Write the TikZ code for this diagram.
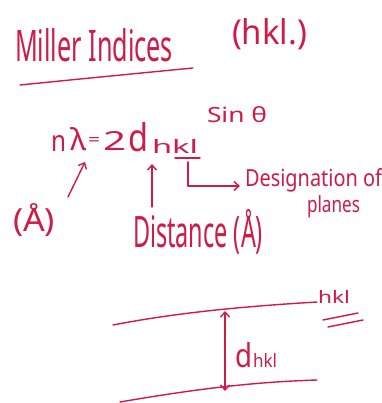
\documentclass[tikz,border=0pt]{standalone}
\usepackage{fontspec}
\setmainfont{Noto Sans}
\usetikzlibrary{arrows.meta}
\definecolor{ink}{RGB}{206,28,72}
\newcommand\fitbox[3]{\resizebox{#1}{#2}{#3}}
\begin{document}
\begin{tikzpicture}[x=1pt,y=-1pt,line width=1.4pt,line cap=round,line join=round,draw=ink,
  txt/.style={inner sep=0pt,outer sep=0pt,text=ink,anchor=base west},
  arr/.style={-{Straight Barb[length=5pt,width=9pt,line width=1.4pt]}},
  darr/.style={{Straight Barb[length=5pt,width=9pt,line width=1.4pt]}-{Straight Barb[length=5pt,width=9pt,line width=1.4pt]}}]
\useasboundingbox (0,0) rectangle (381,403);
\fill[white] (0,0) rectangle (381,403);
% title
\node[txt] (title) at (15,62) {\fitbox{158pt}{33pt}{Miller Indices}};
\coordinate (ul1) at (20,85);
\coordinate (ul2) at (193,68);
\draw (ul1) .. controls (90,78) .. (ul2);
\node[txt] (hklp) at (232,45) {\fitbox{75pt}{26pt}{(hkl.)}};
% equation
\node[txt] (n) at (51,151) {\fitbox{15pt}{16pt}{n}};
\node[txt] (lam) at (70,151) {\fitbox{16pt}{23pt}{λ}};
\node[txt] (eq) at (88,146) {\fitbox{12pt}{8pt}{=}};
\node[txt] (two) at (103,151) {\fitbox{23pt}{19pt}{2}};
\node[txt] (d) at (128,151) {\fitbox{20pt}{29pt}{d}};
\node[txt] (sub) at (152,154) {\fitbox{46pt}{14pt}{hkl}};
\node[txt] (sin) at (207,123) {\fitbox{60pt}{16pt}{Sin θ}};
\coordinate (subl) at (175,158);
\coordinate (subr) at (200,158);
\draw (subl) -- (subr);
\coordinate (brk) at (188,162);
\coordinate (brkend) at (240,186);
\draw[arr] (brk) |- (brkend);
\node[txt] (desig) at (245,186) {\fitbox{137pt}{18pt}{Designation of}};
\node[txt] (planes) at (307,212) {\fitbox{53pt}{17pt}{planes}};
% units
\node[txt] (ang1) at (13,231) {\fitbox{42pt}{28pt}{(Å)}};
\coordinate (lamtail) at (68,197);
\coordinate (lamtip) at (85,162);
\draw[arr] (lamtail) -- (lamtip);
\node[txt] (dist) at (133,247) {\fitbox{130pt}{38pt}{Distance (Å)}};
\coordinate (dtail) at (152,207);
\coordinate (dtip) at (152,164);
\draw[arr] (dtail) -- (dtip);
% planes sketch
\coordinate (t1) at (113,325);
\coordinate (t2) at (317,302);
\draw (t1) .. controls (180,312) and (250,306) .. (t2);
\coordinate (b1) at (120,402);
\coordinate (b2) at (317,380);
\draw (b1) .. controls (190,390) and (250,382) .. (b2);
\coordinate (va) at (225,311);
\coordinate (vb) at (225,391);
\draw[darr] (va) -- (vb);
\node[txt] (dd) at (235,367) {\fitbox{17pt}{25pt}{d}};
\node[txt] (ddsub) at (253,367) {\fitbox{24pt}{14pt}{hkl}};
\node[txt] (hklr) at (318,303) {\fitbox{32pt}{13pt}{hkl}};
\coordinate (e1) at (323,320);
\coordinate (e2) at (358,313);
\coordinate (e3) at (328,327);
\coordinate (e4) at (363,320);
\draw (e1) -- (e2);
\draw (e3) -- (e4);
\end{tikzpicture}
\end{document}
